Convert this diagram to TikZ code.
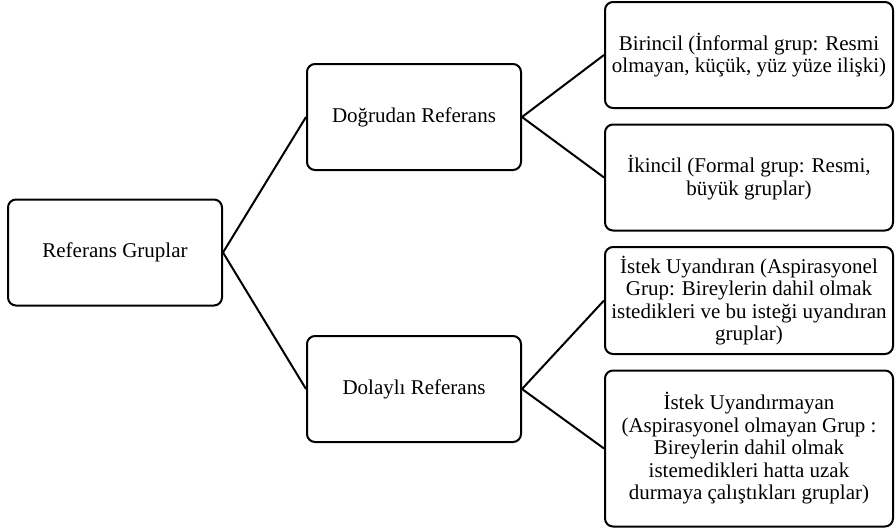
\documentclass[tikz,border=0pt]{standalone}
\usepackage{fontspec}
\setmainfont{Liberation Serif}
\begin{document}
\begin{tikzpicture}[x=1pt,y=-1pt,
  grp/.style={draw, line width=2pt, rounded corners=8pt, align=center, inner sep=2pt,
    font=\fontsize{21}{22.5}\selectfont},
  lvl1/.style={grp, minimum width=214pt, minimum height=106pt},
  lvl2/.style={grp, minimum width=288pt, minimum height=106pt},
  link/.style={line width=2pt}]
  \useasboundingbox (0,0) rectangle (895,528);
  % root
  \node[lvl1] (ref) at (115,252.5) {Referans Gruplar};
  % middle column
  \node[lvl1] (dir) at (414,117) {Doğrudan Referans};
  \node[lvl1] (ind) at (414,389) {Dolaylı Referans};
  % right column
  \node[lvl2] (pri) at (749,55) {Birincil (İnformal grup: Resmi\\olmayan, küçük, yüz yüze ilişki)};
  \node[lvl2] (sec) at (749,177.5) {İkincil (Formal grup: Resmi,\\büyük gruplar)};
  \node[lvl2, minimum height=107pt] (asp) at (749,300.5) {İstek Uyandıran (Aspirasyonel\\Grup: Bireylerin dahil olmak\\istedikleri ve bu isteği uyandıran\\gruplar)};
  \node[lvl2, minimum height=156pt] (dis) at (749,448.5) {İstek Uyandırmayan\\(Aspirasyonel olmayan Grup :\\Bireylerin dahil olmak\\istemedikleri hatta uzak\\durmaya çalıştıkları gruplar)};
  % connectors
  \draw[link] (ref.east) -- (dir.west);
  \draw[link] (ref.east) -- (ind.west);
  \draw[link] (dir.east) -- (pri.west);
  \draw[link] (dir.east) -- (sec.west);
  \draw[link] (ind.east) -- (asp.west);
  \draw[link] (ind.east) -- (dis.west);
\end{tikzpicture}
\end{document}
